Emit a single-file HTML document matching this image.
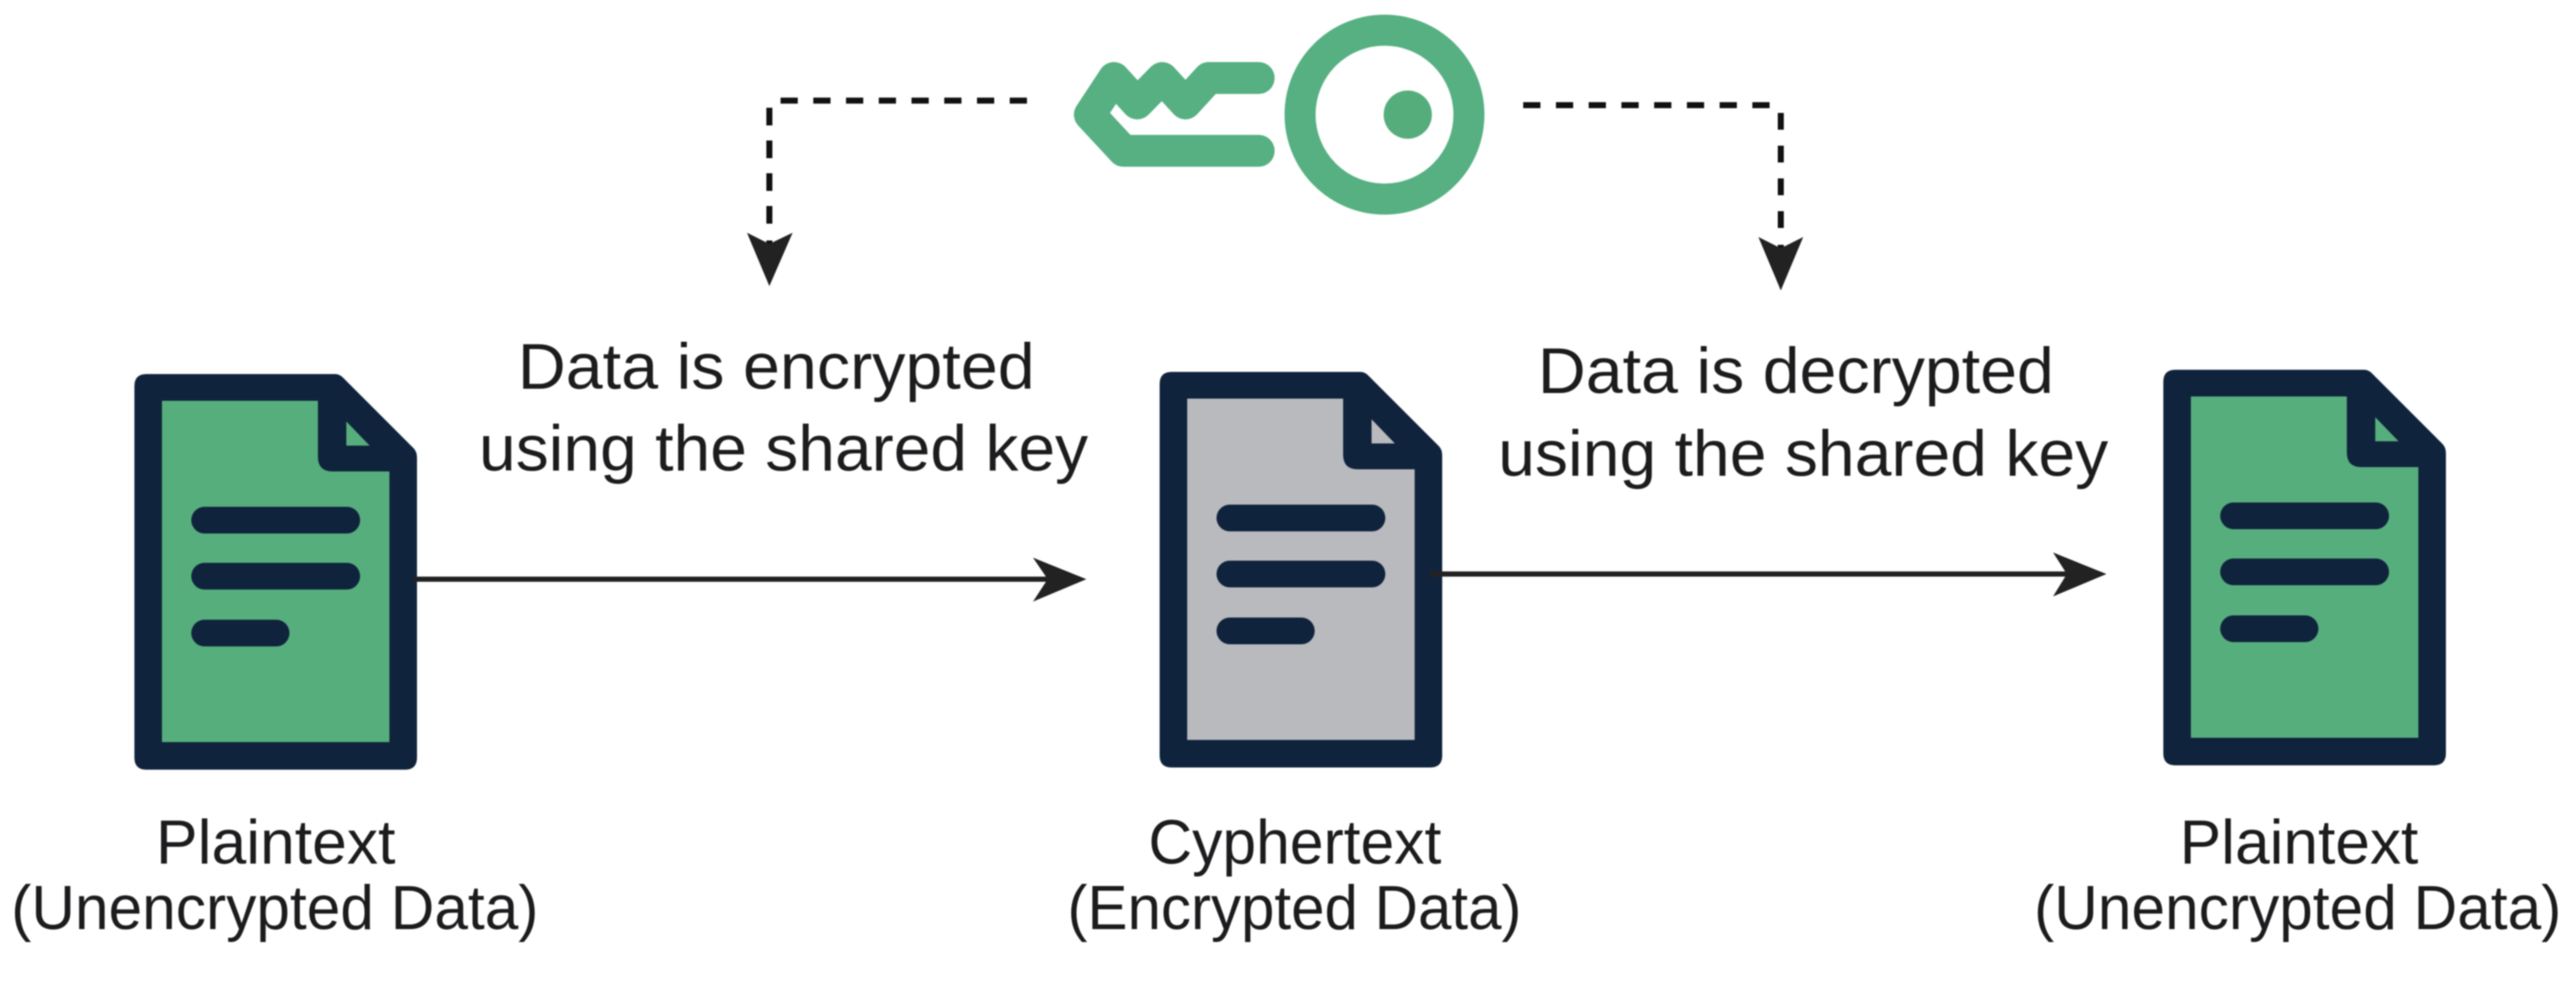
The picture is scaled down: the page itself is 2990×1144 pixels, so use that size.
<!DOCTYPE html>
<html>
<head>
<meta charset="utf-8">
<style>
html,body{margin:0;padding:0;background:#fff;width:2990px;height:1144px;overflow:hidden}
svg{display:block;filter:blur(0.7px)}
text{font-family:"Liberation Sans",sans-serif;fill:#1c1c1e}
.a{font-size:75px}
.b{font-size:72px}
</style>
</head>
<body>
<svg xmlns="http://www.w3.org/2000/svg" width="2990" height="1144" viewBox="0 0 2990 1144">
<defs>
<g id="doc">
  <path fill="#10233c" d="M170,434H389Q394,434 398,438L480,520Q484,524 484,531V879Q484,893 470,893H170Q156,893 156,879V448Q156,434 170,434Z"/>
  <path d="M188,465H369V530Q369,547 386,547H452V861H188Z"/>
  <path d="M402,489L429,517H402Z"/>
  <rect x="222" y="588" width="196" height="31" rx="15.5" fill="#10233c"/>
  <rect x="222" y="653" width="196" height="31" rx="15.5" fill="#10233c"/>
  <rect x="222" y="719" width="114" height="31" rx="15.5" fill="#10233c"/>
</g>
</defs>
<rect width="2990" height="1144" fill="#fff"/>

<!-- key -->
<circle cx="1607" cy="133" r="98" fill="none" stroke="#56b082" stroke-width="36"/>
<circle cx="1634" cy="133" r="28" fill="#55ad7b"/>
<polyline points="1461,175 1304,175 1265,133 1293,90.5 1320,120 1349,90.5 1376,120 1403,90.5 1461,90.5" fill="none" stroke="#56b082" stroke-width="37" stroke-linecap="round" stroke-linejoin="round"/>

<!-- dashed connectors -->
<g stroke="#111" stroke-width="7" fill="none">
  <path d="M1192,116.7H903" stroke-dasharray="20 18"/>
  <path d="M893,125V261" stroke-dasharray="20.5 17.5"/>
  <path d="M893,279V290"/>
  <path d="M1768,122H2057" stroke-dasharray="20 18"/>
  <path d="M2067,131V265" stroke-dasharray="19.5 18.5"/>
  <path d="M2067,284V295"/>
</g>
<path d="M893,332L867,270L893,283L920,270Z" fill="#222"/>
<path d="M2067,337L2041,275L2067,288L2093,275Z" fill="#222"/>

<!-- documents -->
<use href="#doc" fill="#56ae7c"/>
<use href="#doc" fill="#b9babd" transform="translate(1190,-2.5)"/>
<use href="#doc" fill="#56ae7c" transform="translate(2355,-5)"/>

<!-- solid arrows -->
<path d="M480,672H1225" stroke="#222" stroke-width="6" fill="none"/>
<path d="M1261,672L1199,647L1216,672L1199,698Z" fill="#222"/>
<path d="M1660,666H2410" stroke="#222" stroke-width="6" fill="none"/>
<path d="M2445,666L2383,641L2399,666L2383,692Z" fill="#222"/>

<!-- labels -->
<text class="a" x="601" y="451" textLength="600" lengthAdjust="spacingAndGlyphs">Data is encrypted</text>
<text class="a" x="556" y="546" textLength="707" lengthAdjust="spacingAndGlyphs">using the shared key</text>
<text class="a" x="1785" y="456" textLength="599" lengthAdjust="spacingAndGlyphs">Data is decrypted</text>
<text class="a" x="1739" y="552" textLength="708" lengthAdjust="spacingAndGlyphs">using the shared key</text>

<text class="b" x="181" y="1002" textLength="278" lengthAdjust="spacingAndGlyphs">Plaintext</text>
<text class="b" x="13" y="1078" textLength="612" lengthAdjust="spacingAndGlyphs">(Unencrypted Data)</text>
<text class="b" x="1333" y="1002" textLength="340" lengthAdjust="spacingAndGlyphs">Cyphertext</text>
<text class="b" x="1239" y="1078" textLength="527" lengthAdjust="spacingAndGlyphs">(Encrypted Data)</text>
<text class="b" x="2530" y="1002" textLength="277" lengthAdjust="spacingAndGlyphs">Plaintext</text>
<text class="b" x="2361" y="1078" textLength="612" lengthAdjust="spacingAndGlyphs">(Unencrypted Data)</text>
</svg>
</body>
</html>
